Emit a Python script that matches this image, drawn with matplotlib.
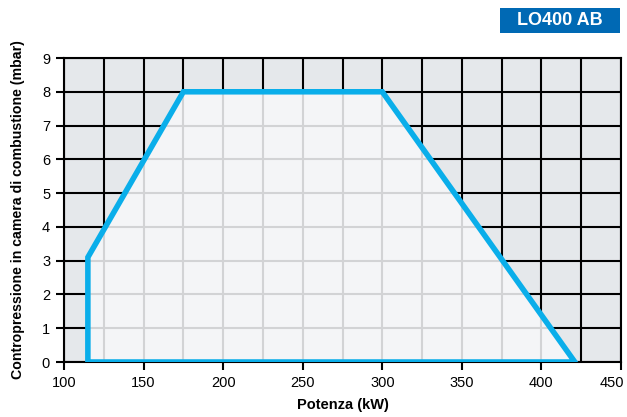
import matplotlib
matplotlib.use("Agg")
import matplotlib.pyplot as plt
from matplotlib.patches import Polygon, Rectangle
from matplotlib.transforms import ScaledTranslation
import numpy as np

plt.rcParams['font.family'] = ['Liberation Sans', 'DejaVu Sans']

# Working range envelope
power_kw = [115, 115, 175, 300, 421]
pressure_mbar = [0, 3.1, 8, 8, 0]

x_ticks = [100, 150, 200, 250, 300, 350, 400, 450]
y_ticks = [0, 1, 2, 3, 4, 5, 6, 7, 8, 9]
x_grid = np.arange(100, 451, 25)
title = "LO400 AB"
xlabel = "Potenza (kW)"
ylabel = "Contropressione in camera di combustione (mbar)"

fig = plt.figure(figsize=(6.27, 4.17), dpi=100)
ax = fig.add_axes([64/627, 1-362/417, (621-64)/627, (362-58)/417])
ax.set_xlim(100, 450)
ax.set_ylim(0, 9)
ax.set_facecolor('#e5e8eb')

for xv in x_grid:
    ax.axvline(xv, color='black', lw=1.5, zorder=1)
for yv in y_ticks:
    ax.axhline(yv, color='black', lw=1.5, zorder=1)

pts = list(zip(power_kw, pressure_mbar))
poly = Polygon(pts, closed=True, facecolor='#f4f5f7', edgecolor='none', zorder=2)
ax.add_patch(poly)

clip = Polygon(pts, closed=True, transform=ax.transData, visible=False)
ax.add_patch(clip)
for xv in x_grid:
    l = ax.axvline(xv, color='#d2d3d5', lw=1.5, zorder=3)
    l.set_clip_path(clip)
for yv in y_ticks:
    l = ax.axhline(yv, color='#d2d3d5', lw=1.5, zorder=3)
    l.set_clip_path(clip)

outline = Polygon(pts, closed=True, facecolor='none', edgecolor='#0aaeea',
                  lw=4, joinstyle='miter', zorder=4)
ax.add_patch(outline)

for s in ax.spines.values():
    s.set_linewidth(1.5)
    s.set_color('black')
    s.set_zorder(1)

ax.set_xticks(x_ticks)
ax.set_yticks(y_ticks)
ax.tick_params(direction='out', length=6, width=1.5, labelsize=10.5, pad=4)
ax.set_xlabel(xlabel, fontsize=10.5, fontweight='bold', labelpad=5.5)
ax.set_ylabel(ylabel, fontsize=10.2, fontweight='bold', labelpad=12)

# keep the last x tick label inside the figure
last = ax.get_xticklabels()[-1]
last.set_transform(last.get_transform() + ScaledTranslation(-9/100, 0, fig.dpi_scale_trans))

# title badge
fig.patches.append(Rectangle((500/627, 1-33/417), 120/627, 25/417,
                             transform=fig.transFigure, facecolor='#0069b4',
                             edgecolor='none'))
fig.text(560/627, 1-20.5/417, title, color='white', fontsize=13,
         fontweight='bold', ha='center', va='center')

fig.savefig('out.png', dpi=100)
